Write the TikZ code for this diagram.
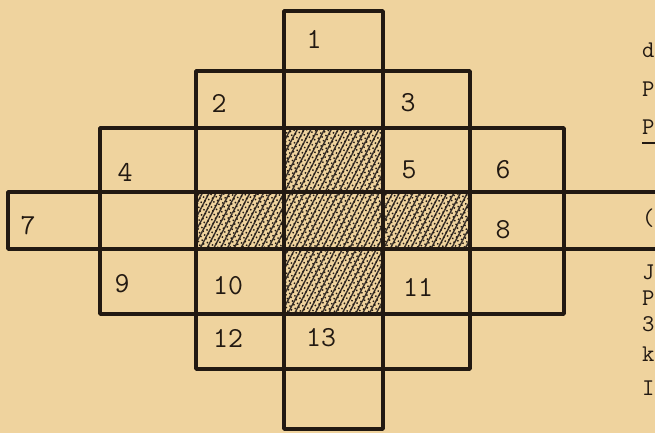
\documentclass[tikz,border=0pt]{standalone}
\usepackage{tikz}
\usetikzlibrary{patterns.meta}
\definecolor{paper}{RGB}{239,211,158}
\definecolor{ink}{RGB}{34,25,18}

\begin{document}
\begin{tikzpicture}[x=0.5pt, y=-0.5pt,
  every node/.style={font=\ttfamily\fontsize{14.5}{14.5}\selectfont, text=ink, inner sep=0pt},
  edgetext/.style={anchor=east, font=\ttfamily\fontsize{12}{12}\selectfont},
  cell/.style={draw=ink, line width=1.8pt, line join=round},
  hatch/.style={pattern={Lines[angle=62, distance=3pt, line width=0.7pt]}, pattern color=ink!90},
  grain/.style={pattern={Dots[angle=20, distance=2pt, radius=0.5pt]}, pattern color=ink}]
% sheet of paper
\fill[paper] (0,0) rectangle (655,433);
\useasboundingbox (0,0) rectangle (655,433);
\clip (0,0) rectangle (655,433);
% shaded squares in the middle (cross of five)
\foreach \xa/\ya/\xb/\yb in {284/128/383/192, 196/192/284/249, 284/192/383/249,
                              383/192/470/249, 284/249/383/314} {
  \fill[hatch] (\xa,\ya) rectangle (\xb,\yb);
  \fill[grain] (\xa,\ya) rectangle (\xb,\yb);
}
% the squares, row by row
\foreach \xa/\ya/\xb/\yb in {284/11/383/71,
    196/71/284/128, 284/71/383/128, 383/71/470/128,
    100/128/196/192, 196/128/284/192, 284/128/383/192, 383/128/470/192, 470/128/564/192,
    8/192/100/249, 100/192/196/249, 196/192/284/249, 284/192/383/249, 383/192/470/249,
    470/192/564/249, 564/192/690/249,
    100/249/196/314, 196/249/284/314, 284/249/383/314, 383/249/470/314, 470/249/564/314,
    196/314/284/369, 284/314/383/369, 383/314/470/369,
    284/369/383/429}
  \draw[cell] (\xa,\ya) rectangle (\xb,\yb);
% numbers in the squares
\foreach \n/\x/\y in {1/314/39, 2/219/103, 3/408/103, 4/125/172, 5/409/170, 6/503/170,
                      7/28/226, 8/503/230, 9/122/284, 10/228/286, 11/418/287,
                      12/228/338, 13/321/338}
  \node (sq\n) at (\x,\y) {\n};
% typed text at the right edge of the page
\node[edgetext] (rt1) at (655,50) {d};
\node[edgetext] (rt2) at (655,89) {P};
\node[edgetext] (rt3) at (655,127) {P};
\draw[ink, line width=1.1pt] ([yshift=-4pt]rt3.south west) -- ++(40,0);
\node[edgetext] (rt4) at (655,218) {(};
\node[edgetext] (rt5) at (655,272) {J};
\node[edgetext] (rt6) at (655,298) {P};
\node[edgetext] (rt7) at (655,324) {3};
\node[edgetext] (rt8) at (655,354) {k};
\node[edgetext] (rt9) at (655,388) {I};
\end{tikzpicture}
\end{document}
